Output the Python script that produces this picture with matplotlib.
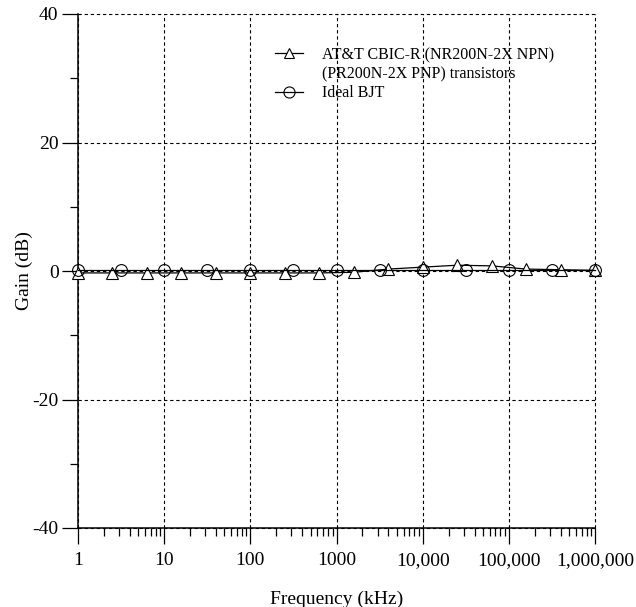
import numpy as np
import matplotlib
matplotlib.use('Agg')
import matplotlib.pyplot as plt
from matplotlib.lines import Line2D
from matplotlib.ticker import FixedLocator, FixedFormatter, LogLocator, NullFormatter

plt.rcParams['font.family'] = ['Liberation Serif', 'DejaVu Serif']

# AT&T CBIC-R transistors: markers every 0.4 decade
freq_att = [1, 2.512, 6.31, 15.85, 39.81, 100, 251.2, 631, 1585, 3981,
            10000, 25119, 63096, 158489, 398107, 1000000]
gain_att = [-0.3, -0.3, -0.3, -0.3, -0.3, -0.3, -0.3, -0.3, -0.2, 0.3,
            0.6, 0.9, 0.8, 0.3, 0.2, 0.1]

# ideal BJT: markers every half decade
freq_ideal = [1, 3.162, 10, 31.62, 100, 316.2, 1000, 3162, 10000, 31623,
              100000, 316228, 1000000]
gain_ideal = [0.1, 0.1, 0.1, 0.1, 0.1, 0.1, 0.1, 0.1, 0.1, 0.1, 0.1, 0.1, 0.1]

xticks = [1, 10, 100, 1000, 10000, 100000, 1000000]
xticklabels = ['1', '10', '100', '1000', '10,000', '100,000', '1,000,000']
yticks = [-40, -20, 0, 20, 40]
yticklabels = ['-40', '-20', '0', '20', '40']
yminor = [-30, -10, 10, 30]

fig = plt.figure(figsize=(6.36, 6.07), dpi=100)
ax = fig.add_axes([78/636, 1 - 528/607, 517/636, 514/607])

ax.plot(freq_att, gain_att, color='black', lw=0.9, marker='^', ms=8,
        mfc='white', mec='black', mew=0.8, clip_on=False, zorder=3)
ax.plot(freq_ideal, gain_ideal, color='black', lw=0.9, marker='o', ms=8.5,
        mfc='none', mec='black', mew=0.8, clip_on=False, zorder=4)

ax.set_xscale('log')
ax.set_xlim(1, 1e6)
ax.set_ylim(-40, 40)

ax.xaxis.set_major_locator(FixedLocator(xticks))
ax.xaxis.set_major_formatter(FixedFormatter(xticklabels))
ax.xaxis.set_minor_locator(LogLocator(base=10, subs=np.arange(2, 10), numticks=20))
ax.xaxis.set_minor_formatter(NullFormatter())
ax.yaxis.set_major_locator(FixedLocator(yticks))
ax.yaxis.set_major_formatter(FixedFormatter(yticklabels))
ax.yaxis.set_minor_locator(FixedLocator(yminor))

ax.tick_params(which='major', direction='out', length=11.5, width=0.9,
               labelsize=14, color='black')
ax.tick_params(which='minor', direction='out', length=5.8, width=0.9)
ax.tick_params(axis='x', which='major', pad=6)
ax.tick_params(axis='y', which='major', pad=2.5)

for s in ['top', 'right']:
    ax.spines[s].set_visible(False)
for s in ['left', 'bottom']:
    ax.spines[s].set_linewidth(1.1)

ax.grid(True, which='major', color='black', linestyle=(0, (3, 2.5)), lw=0.8)
for gl in ax.get_xgridlines() + ax.get_ygridlines():
    gl.set_clip_on(False)

ax.set_xlabel('Frequency (kHz)', fontsize=14)
ax.set_ylabel('Gain (dB)', fontsize=14)
ax.xaxis.set_label_coords(0.5, -0.121)
ax.yaxis.set_label_coords(-0.088, 0.5)

handles = [
    Line2D([], [], color='black', lw=0.9, marker='^', ms=7, mfc='white', mec='black', mew=0.8),
    Line2D([], [], linestyle='none'),
    Line2D([], [], color='black', lw=0.9, marker='o', ms=8, mfc='none', mec='black', mew=0.8),
]
labels = ['AT&T CBIC-R (NR200N-2X NPN)', '(PR200N-2X PNP) transistors', 'Ideal BJT']
ax.legend(handles, labels, loc='upper left', bbox_to_anchor=(0.381, 0.936),
          frameon=False, fontsize=11.5, borderpad=0, borderaxespad=0,
          handlelength=1.77, handletextpad=1.2, labelspacing=0.2)

fig.savefig('out.png', dpi=100, facecolor='white')
